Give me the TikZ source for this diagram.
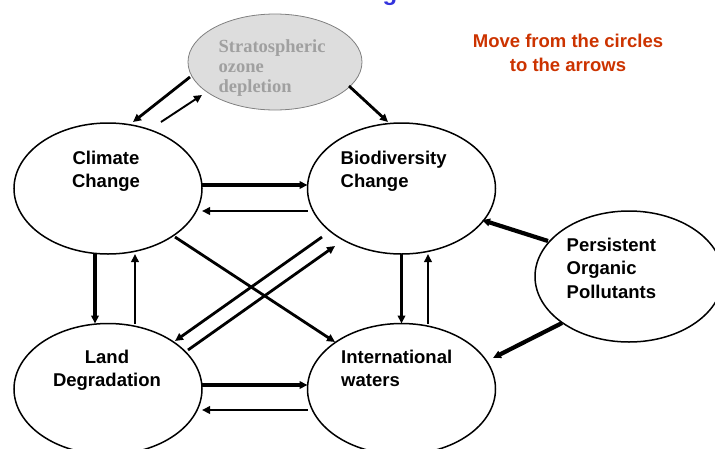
\documentclass[tikz,border=0pt]{standalone}
\usepackage{fontspec}
\setmainfont{Liberation Sans}
\newfontfamily\timesfont{Liberation Serif}
\usetikzlibrary{shapes.geometric,arrows.meta,positioning}
\definecolor{hintred}{RGB}{204,51,0}
\definecolor{titleblue}{RGB}{51,51,221}
\definecolor{ozonefill}{RGB}{221,221,221}
\definecolor{ozonetext}{RGB}{160,160,160}

\begin{document}
\begin{tikzpicture}[x=1pt,y=-1pt]
        \tikzset{
            IssueStyle/.style = {
                shape = ellipse,
                draw = black,
                line width = 1.5pt,
                fill = white,
                inner sep = 0pt,
                outer sep = 0pt,
                minimum width = 188pt,
                minimum height = 131pt},
            IssueText/.style = {
                inner sep = 0pt,
                font = \fontsize{18.5}{23.5}\selectfont\bfseries},
            Link/.style = {-{Triangle[length=8pt,width=7.5pt]}},
            LinkThin/.style = {Link, line width = 1.9pt},
            LinkMid/.style = {Link, line width = 2.8pt},
            LinkThick/.style = {Link, line width = 4.2pt}
                }
    \useasboundingbox (0,0) rectangle (715,448);
    \node[IssueStyle] (climate) at (108,188.5) {};
    \node[IssueStyle, right = 105.5pt of climate] (bio) {};
    \node[IssueStyle, below = 69.5pt of climate] (land) {};
    \node[IssueStyle, below = 69.5pt of bio] (waters) {};
    \node[IssueStyle] (pop) at (629,276.5) {};
    \node[IssueStyle, draw = gray, line width = 0.8pt, fill = ozonefill,
          minimum width = 174pt, minimum height = 96pt] (ozone) at (275,62) {};
    \node[IssueText, align = center, anchor = north] (climate-text)
        at ([shift={(-2,-37.7)}]climate.center) {Climate\\Change};
    \node[IssueText, align = left, anchor = north west] (bio-text)
        at ([shift={(-61,-37.7)}]bio.center) {Biodiversity\\Change};
    \node[IssueText, align = center, anchor = north] (land-text)
        at ([shift={(-1,-39.2)}]land.center) {Land\\Degradation};
    \node[IssueText, align = left, anchor = north west] (waters-text)
        at ([shift={(-60.5,-39.2)}]waters.center) {International\\waters};
    \node[IssueText, align = left, anchor = north west] (pop-text)
        at ([shift={(-62.5,-38.7)}]pop.center) {Persistent\\Organic\\Pollutants};
    \node[IssueText, align = left, anchor = north west, text = ozonetext,
          font = \timesfont\fontsize{18.5}{20}\selectfont\bfseries] (ozone-text)
        at ([shift={(-56.6,-22.6)}]ozone.center) {Stratospheric\\ozone\\depletion};
    \node[IssueText, align = center, anchor = north, text = hintred,
          font = \fontsize{18.5}{24.5}\selectfont\bfseries] (hint) at (568,33.8)
        {Move from the circles\\to the arrows};
    \node[inner sep = 0pt, anchor = base, text = titleblue,
          font = \fontsize{24}{28}\selectfont\bfseries] (title) at (390,0) {g};
    \draw[LinkMid] ([shift={(-85,15)}]ozone.center) -- ([shift={(25,-66.5)}]climate.center);
    \draw[LinkThin] ([shift={(53,-66.5)}]climate.center) -- ([shift={(-73,33)}]ozone.center);
    \draw[LinkMid] ([shift={(74,24)}]ozone.center) -- ([shift={(-13.5,-66.5)}]bio.center);
    \draw[LinkThick] ([shift={(0,-3.5)}]climate.east) -- ([shift={(0,-3.5)}]bio.west);
    \draw[LinkMid] ([shift={(0,22.5)}]bio.west) -- ([shift={(0,22.5)}]climate.east);
    \draw[LinkThick] ([shift={(-13,0)}]climate.south) -- ([shift={(-13,0)}]land.north);
    \draw[LinkThin] ([shift={(27,0)}]land.north) -- ([shift={(27,0)}]climate.south);
    \draw[LinkMid] ([shift={(67,48.5)}]climate.center) -- ([shift={(-66.5,-47)}]waters.center);
    \draw[LinkMid] ([shift={(-79.5,48.5)}]bio.center) -- ([shift={(67,-48)}]land.center);
    \draw[LinkMid] ([shift={(80,-39)}]land.center) -- ([shift={(-66.5,57.5)}]bio.center);
    \draw[LinkMid] (bio.south) -- (waters.north);
    \draw[LinkThin] ([shift={(26.5,0)}]waters.north) -- ([shift={(26.5,0)}]bio.south);
    \draw[LinkThick] ([shift={(-81,-35.5)}]pop.center) -- ([shift={(80.5,31.5)}]bio.center);
    \draw[LinkThick] ([shift={(-67,46.5)}]pop.center) -- ([shift={(91.5,-31)}]waters.center);
    \draw[LinkThick] ([shift={(0,-4)}]land.east) -- ([shift={(0,-4)}]waters.west);
    \draw[LinkMid] ([shift={(0,21)}]waters.west) -- ([shift={(0,21)}]land.east);
\end{tikzpicture}
\end{document}
